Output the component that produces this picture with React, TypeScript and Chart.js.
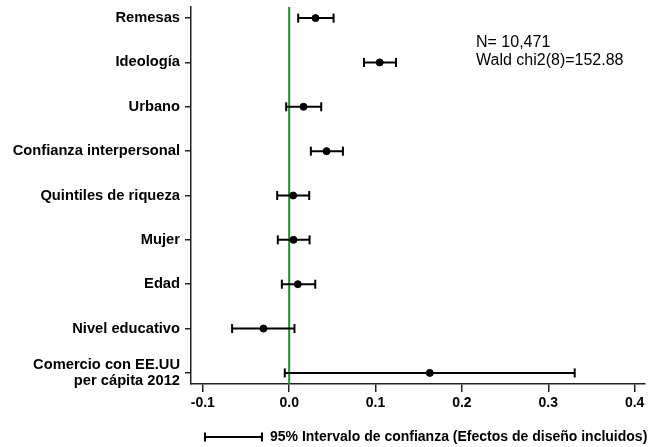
import React, { useEffect, useRef } from "react";
import { Chart, registerables } from "chart.js";

Chart.register(...registerables);

const categories: (string | string[])[] = [
  "Remesas",
  "Ideología",
  "Urbano",
  "Confianza interpersonal",
  "Quintiles de riqueza",
  "Mujer",
  "Edad",
  "Nivel educativo",
  ["Comercio con EE.UU", "per cápita 2012"],
];
const estimates = [0.0305, 0.1048, 0.0166, 0.0433, 0.0046, 0.005, 0.01, -0.0298, 0.1628];
const lower = [0.0104, 0.0866, -0.0035, 0.0251, -0.0139, -0.0132, -0.0085, -0.0661, -0.0051];
const upper = [0.0514, 0.1237, 0.0371, 0.0622, 0.0232, 0.0236, 0.0302, 0.0061, 0.3306];
const xTicks = [-0.1, 0.0, 0.1, 0.2, 0.3, 0.4];
const annotationLines = ["N= 10,471", "Wald chi2(8)=152.88"];
const legendText = "95% Intervalo de confianza (Efectos de diseño incluidos)";

const X_MIN = -0.1137;
const X_MAX = 0.412;
const Y_MIN = 0.75;
const Y_MAX = 9.25;

const FONT = "'Liberation Sans', Arial, Helvetica, sans-serif";

export default function App() {
  const canvasRef = useRef<HTMLCanvasElement | null>(null);

  useEffect(() => {
    const canvas = canvasRef.current;
    if (!canvas) return;

    const ciDatasets = categories.map((_, i) => ({
      type: "line" as const,
      label: "ci" + i,
      data: [
        { x: lower[i], y: i + 1 },
        { x: upper[i], y: i + 1 },
      ],
      borderColor: "#000",
      borderWidth: 2,
      pointStyle: "line" as const,
      rotation: 90,
      pointRadius: 4.5,
      pointBorderWidth: 2,
      pointBorderColor: "#000",
      pointBackgroundColor: "#000",
      showLine: true,
      order: 2,
    }));

    const overlay = {
      id: "overlay",
      afterDraw(chart: any) {
        const { ctx, chartArea } = chart;
        ctx.save();
        ctx.fillStyle = "#000";
        ctx.font = `16px ${FONT}`;
        ctx.textBaseline = "alphabetic";
        ctx.textAlign = "left";
        annotationLines.forEach((t, k) => {
          ctx.fillText(t, chartArea.left + 285, chartArea.top + 40 + k * 18);
        });
        // legend
        const ly = chartArea.bottom + 53;
        const lx0 = chartArea.left + 14;
        const lx1 = chartArea.left + 71;
        ctx.strokeStyle = "#000";
        ctx.lineWidth = 2;
        ctx.beginPath();
        ctx.moveTo(lx0, ly);
        ctx.lineTo(lx1, ly);
        ctx.moveTo(lx0, ly - 4.5);
        ctx.lineTo(lx0, ly + 4.5);
        ctx.moveTo(lx1, ly - 4.5);
        ctx.lineTo(lx1, ly + 4.5);
        ctx.stroke();
        ctx.font = `bold 14px ${FONT}`;
        ctx.textBaseline = "middle";
        ctx.fillText(legendText, lx1 + 8, ly);
        ctx.restore();
      },
    };

    const chart = new Chart(canvas, {
      type: "scatter",
      data: {
        datasets: [
          {
            type: "line",
            label: "zero",
            data: [
              { x: 0, y: Y_MIN },
              { x: 0, y: Y_MAX },
            ],
            borderColor: "rgb(30,140,40)",
            borderWidth: 2,
            pointRadius: 0,
            showLine: true,
            order: 3,
          },
          ...ciDatasets,
          {
            type: "scatter",
            label: "est",
            data: estimates.map((v, i) => ({ x: v, y: i + 1 })),
            pointRadius: 3.5,
            pointBackgroundColor: "#000",
            pointBorderColor: "#000",
            pointBorderWidth: 1,
            order: 1,
          },
        ] as any,
      },
      plugins: [overlay],
      options: {
        animation: false,
        responsive: true,
        maintainAspectRatio: false,
        layout: { padding: { left: 0, right: 21, top: 7, bottom: 33 } },
        plugins: {
          legend: { display: false },
          tooltip: { enabled: false },
        },
        scales: {
          x: {
            type: "linear",
            min: X_MIN,
            max: X_MAX,
            afterBuildTicks: (scale: any) => {
              scale.ticks = xTicks.map((v) => ({ value: v }));
            },
            afterFit: (scale: any) => {
              scale.height = 30;
              scale.paddingLeft = 0;
              scale.paddingRight = 0;
            },
            border: { display: true, color: "#222", width: 1.5 },
            grid: {
              display: true,
              drawOnChartArea: false,
              drawTicks: true,
              tickLength: 8,
              color: "#222",
              lineWidth: 1.5,
            },
            ticks: {
              color: "#000",
              padding: 3,
              font: { family: FONT, size: 14, weight: "bold" },
              callback: (v: any) => Number(v).toFixed(1),
              maxRotation: 0,
              autoSkip: false,
            },
          },
          y: {
            type: "linear",
            min: Y_MIN,
            max: Y_MAX,
            reverse: true,
            afterBuildTicks: (scale: any) => {
              scale.ticks = categories.map((_, i) => ({ value: i + 1 }));
            },
            afterFit: (scale: any) => {
              scale.width = 191;
              scale.paddingTop = 0;
              scale.paddingBottom = 0;
            },
            border: { display: true, color: "#222", width: 1.5 },
            grid: {
              display: true,
              drawOnChartArea: false,
              drawTicks: true,
              tickLength: 6,
              color: "#222",
              lineWidth: 1.5,
            },
            ticks: {
              color: "#000",
              padding: 5,
              autoSkip: false,
              font: {
                family: FONT,
                size: 14.7,
                weight: "bold",
                lineHeight: 1.15,
              },
              callback: (v: any) => categories[Math.round(Number(v)) - 1] ?? "",
            },
          },
        },
      } as any,
    });

    return () => chart.destroy();
  }, []);

  return (
    <div style={{ position: "fixed", left: 0, top: 0, width: 666, height: 447, background: "#fff" }}>
      <canvas ref={canvasRef} />
    </div>
  );
}
